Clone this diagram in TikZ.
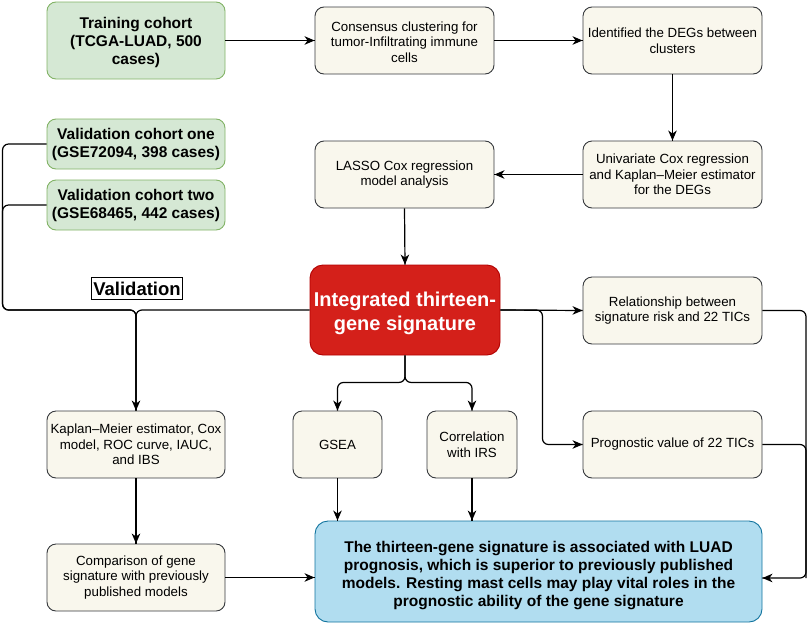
\documentclass[tikz,border=0pt]{standalone}
\usepackage{fontspec}
\setmainfont{Liberation Sans}
\usepackage[]{xcolor}
\usetikzlibrary{arrows.meta}
\usetikzlibrary{decorations.markings}
\definecolor{cohortfill}{HTML}{D5E8D4}
\definecolor{cohortline}{HTML}{82B366}
\definecolor{boxfill}{HTML}{F9F7ED}
\definecolor{boxline}{HTML}{36393D}
\definecolor{sigfill}{HTML}{D4201A}
\definecolor{sigline}{HTML}{B20000}
\definecolor{resfill}{HTML}{B1DDF0}
\definecolor{resline}{HTML}{10739E}
\tikzset{->/.style = {decoration={markings,mark=at position 1 with {\arrow{Stealth[length=10pt,width=8.5pt,inset=3pt]}}},postaction={decorate}}}
\tikzset{box/.style = {draw=boxline, fill=boxfill, rounded corners=9, line width=0.9, align=center, inner sep=2, font=\fontsize{13.3}{15.5}\selectfont}}
\tikzset{cohort/.style = {box, draw=cohortline, fill=cohortfill, font=\bfseries\fontsize{15.5}{18}\selectfont}}
\tikzset{sig/.style = {box, draw=sigline, fill=sigfill, text=white, rounded corners=13, font=\bfseries\fontsize{20}{24}\selectfont}}
\tikzset{res/.style = {box, draw=resline, fill=resfill, rounded corners=13, font=\bfseries\fontsize{15.5}{18}\selectfont}}
\tikzset{link/.style = {line width=1.2, rounded corners=6}}

\begin{document}
\begin{tikzpicture}[x=1pt,y=-1pt]
        \useasboundingbox (0,0) rectangle (810,624);
        % cohorts
        \node[cohort, minimum width=178, minimum height=77] (T) at (136,40.5) {\rule{0pt}{15pt}Training cohort\\(TCGA-LUAD, 500\\cases)};
        \node[cohort, minimum width=178, minimum height=50] (V1) at (136,144) {Validation cohort one\\(GSE72094, 398 cases)};
        \node[cohort, minimum width=178, minimum height=50] (V2) at (136,205) {Validation cohort two\\(GSE68465, 442 cases)};
        % signature building
        \node[box, minimum width=179, minimum height=67] (C) at (404.5,40.5) {\rule{0pt}{13pt}Consensus clustering for\\tumor-Infiltrating immune\\cells};
        \node[box, minimum width=179, minimum height=67] (D) at (672.5,40.5) {Identified the DEGs between\\clusters};
        \node[box, minimum width=179, minimum height=67] (U) at (672.5,174.5) {Univariate Cox regression\\and Kaplan--Meier estimator\\for the DEGs};
        \node[box, minimum width=179, minimum height=67] (L) at (404.5,174.5) {LASSO Cox regression\\model analysis};
        \node[sig, minimum width=190, minimum height=90] (R) at (405,310) {\rule{0pt}{21pt}Integrated thirteen-\\gene signature};
        \node[draw, line width=0.8, inner sep=1.5, minimum height=22, font=\bfseries\fontsize{18.5}{20}\selectfont] (VL) at (137,288.5) {Validation};
        % analyses
        \node[box, minimum width=179, minimum height=67] (Rel) at (672.5,310.5) {Relationship between\\signature risk and 22 TICs};
        \node[box, minimum width=179, minimum height=67] (P) at (672.5,444.5) {Prognostic value of 22 TICs};
        \node[box, minimum width=178, minimum height=67] (K) at (136,444.5) {Kaplan--Meier estimator, Cox\\model, ROC curve, IAUC,\\and IBS};
        \node[box, minimum width=89, minimum height=67] (G) at (337.5,444.5) {GSEA};
        \node[box, minimum width=90, minimum height=67] (Co) at (472,444.5) {Correlation\\with IRS};
        \node[box, minimum width=178, minimum height=67] (M) at (136,577.5) {Comparison of gene\\signature with previously\\published models};
        \node[res, minimum width=447, minimum height=101] (B) at (538.5,571.5) {\rule{0pt}{19.5pt}The thirteen-gene signature is associated with LUAD\\prognosis, which is superior to previously published\\models. Resting mast cells may play vital roles in the\\prognostic ability of the gene signature};
        \coordinate (J) at (K.north |- R.west);
        \coordinate (E) at (806,578);
        % connectors
        \draw [link,->] (T.east)--(C.west);
        \draw [link,->] (C.east)--(D.west);
        \draw [link,->] (D.south)--(U.north);
        \draw [link,->] (U.west)--(L.east);
        \draw [link,->] (L.south)--(R.north);
        \draw [link] (V1.west)--++(-44,0) |- (J)--(K.north);
        \draw [link] (V2.west)--++(-44,0) |- (J)--(K.north);
        \draw [link,->] (R.west) -| (K.north);
        \draw [link,->] (R.east)--(Rel.west);
        \draw [link,->] (R.east)--++(42,0) |- (P.west);
        \draw [link,->] (R.south)--++(0,27) -| (G.north);
        \draw [link,->] (R.south)--++(0,27) -| (Co.north);
        \draw [link,->] (K.south)--(M.north);
        \draw [link,->] (G.south)--(G.south |- B.north);
        \draw [link,->] (Co.south)--(Co.south |- B.north);
        \draw [link,->] (M.east)--(M.east -| B.west);
        \draw [link] (P.east) -| (E);
        \draw [link,->] (Rel.east) -| (E)--(E -| B.east);
    \end{tikzpicture}
\end{document}
